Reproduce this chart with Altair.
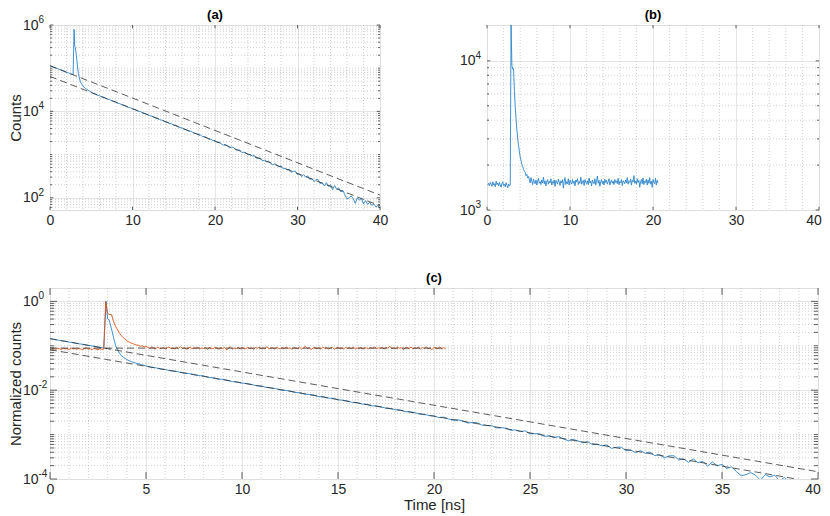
import altair as alt
import numpy as np
import pandas as pd

FONT = "Liberation Sans"
TXT = "#262626"

# ---------------- panel (a): raw counts of the sample ----------------
A_TIME_PRE = [0.0, 0.25, 0.5, 0.75, 1.0, 1.25, 1.5, 1.75, 2.0, 2.25, 2.5, 2.75]
A_COUNTS_PRE = [114000, 109500, 104200, 100600, 95500, 92300, 87600, 84800,
                80300, 77800, 73600, 71200]
A_TIME_PEAK = [2.80, 2.92, 3.00, 3.08, 3.18, 3.30, 3.42, 3.55, 3.70, 3.85,
               4.00, 4.25, 4.50, 4.75]
A_COUNTS_PEAK = [69500, 790000, 320000, 300000, 210000, 125000, 80000, 60000,
                 48000, 42500, 38500, 34500, 32000, 29800]
A_TAIL_START = 5.0
A_TAIL_STEP = 0.25
A_COUNTS_TAIL = [
    27800, 26200, 25300, 23700, 23050, 21700, 21250, 20050, 19050, 18700,
    17600, 16850, 16500, 15400, 14950, 14050, 13800, 13200, 12350, 12100,
    11350, 11150, 10600, 9950, 9800, 9150, 8950, 8600, 8000, 7850,
    7550, 7050, 6950, 6480, 6300, 6120, 5650, 5600, 5220, 5150,
    4780, 4700, 4500, 4180, 4150, 3860, 3790, 3520, 3490, 3340,
    3090, 3060, 2860, 2830, 2600, 2580, 2470, 2280, 2260, 2110,
    2090, 1905, 1955, 1785, 1655, 1700, 1600, 1440, 1480, 1460,
    1290, 1262, 1270, 1112, 1132, 1106, 987, 1005, 924, 958,
    822, 829, 826, 714, 743, 677, 708, 627, 576, 616,
    568, 517, 552, 469, 482, 439, 460, 387, 410, 411,
    343, 357, 308, 343, 301, 320, 265, 281, 236, 263,
    263, 211, 225, 187, 224, 183, 198, 154, 192, 156,
    169, 136, 148, 116, 94, 99, 110, 96, 74, 99,
    88, 96, 72, 86, 70, 78, 66, 72, 61, 66,
    57,
]
A_FIT_TIME = [0.0, 40.0]
A_FIT_LONG = [114000, 115]
A_FIT_SHORT = [64500, 65]

# ---------------- panel (b): raw counts of the reference ----------------
B_TIME_START = 0.1
B_TIME_STEP = 0.1
B_COUNTS = [
    1470, 1510, 1455, 1530, 1490, 1440, 1545, 1475, 1500, 1430, 1560, 1480, 1515, 1450,
    1530, 1470, 1420, 1505, 1545, 1460, 1490, 1430, 1525, 1470, 1410, 1495, 1450, 1470,
    17400, 9300, 8800, 8900, 6300, 4900, 4100, 3450, 3000, 2700, 2480, 2260, 2150, 2020,
    1960, 1870, 1820, 1790, 1700, 1740, 1640, 1680,
    1600, 1520, 1650, 1560, 1480, 1610, 1540, 1500, 1590, 1470, 1560, 1630, 1510,
    1550, 1480, 1590, 1520, 1660, 1500, 1570, 1450, 1540, 1600, 1490, 1560, 1520,
    1620, 1470, 1550, 1510, 1590, 1440, 1580, 1530, 1490, 1610, 1540, 1460, 1570,
    1520, 1600, 1400, 1560, 1650, 1480, 1550, 1500, 1620, 1470, 1580, 1530, 1490,
    1600, 1510, 1560, 1450, 1590, 1540, 1620, 1480, 1550, 1510, 1660, 1490, 1540,
    1580, 1460, 1600, 1530, 1500, 1570, 1480, 1640, 1520, 1560, 1450, 1590, 1540,
    1500, 1620, 1470, 1560, 1690, 1510, 1580, 1440, 1550, 1600, 1500, 1560, 1470,
    1610, 1530, 1580, 1490, 1550, 1620, 1470, 1540, 1590, 1510, 1560, 1480, 1600,
    1530, 1570, 1500, 1630, 1480, 1550, 1520, 1600, 1460, 1570, 1540, 1500, 1590,
    1520, 1650, 1490, 1560, 1530, 1610, 1470, 1580, 1540, 1700, 1510, 1560, 1490,
    1620, 1530, 1580, 1420, 1550, 1600, 1500, 1640, 1480, 1560, 1530, 1610, 1470,
    1590, 1510, 1650, 1490, 1560, 1420, 1600, 1540, 1500, 1630, 1470, 1580, 1520,
]
B_BACKGROUND = 1540
B_BACKGROUND_TIME = [0.0, 20.6]

# axis tick values and their exponent labels
A_Y_TICKS = [1e2, 1e4, 1e6]
A_Y_EXP = ["2", "4", "6"]
B_Y_TICKS = [1e3, 1e4]
B_Y_EXP = ["3", "4"]
C_Y_TICKS = [1e-4, 1e-2, 1.0]
C_Y_EXP = ["-4", "-2", "0"]
AB_X_TICKS = [0, 10, 20, 30, 40]
C_X_TICKS = [0, 5, 10, 15, 20, 25, 30, 35, 40]

BLUE = "#2c84cc"
RED = "#d95319"
DASH = "#333333"

# ---------------- tables ----------------
a_time = A_TIME_PRE + A_TIME_PEAK + list(
    np.round(A_TAIL_START + A_TAIL_STEP * np.arange(len(A_COUNTS_TAIL)), 3))
a_counts = A_COUNTS_PRE + A_COUNTS_PEAK + A_COUNTS_TAIL
b_time = list(np.round(B_TIME_START + B_TIME_STEP * np.arange(len(B_COUNTS)), 3))
b_counts = B_COUNTS

a_max = float(max(a_counts))
b_max = float(max(b_counts))

df_a = pd.DataFrame({"t": a_time, "v": a_counts, "s": "a"})
df_b = pd.DataFrame({"t": b_time, "v": b_counts, "s": "b"})
df_a_fit = pd.DataFrame({
    "t": A_FIT_TIME + A_FIT_TIME,
    "v": A_FIT_LONG + A_FIT_SHORT,
    "s": ["long", "long", "short", "short"],
})
df_c_blue = pd.DataFrame({"t": a_time, "v": np.array(a_counts) / a_max, "s": "a"})
df_c_red = pd.DataFrame({"t": b_time, "v": np.array(b_counts) / b_max, "s": "b"})
df_c_fit = pd.DataFrame({
    "t": A_FIT_TIME + A_FIT_TIME + B_BACKGROUND_TIME,
    "v": list(np.array(A_FIT_LONG) / a_max) + list(np.array(A_FIT_SHORT) / a_max)
         + [B_BACKGROUND / b_max] * 2,
    "s": ["long", "long", "short", "short", "bg", "bg"],
})


def log_minor(lo, hi):
    out = []
    for k in range(-6, 8):
        for m in range(1, 10):
            v = m * 10.0 ** k
            if lo < v < hi:
                out.append(v)
    return out


LABEL_FS = 14
EXP_FS = 10
LABEL_PAD_Y = 12


def panel(w, h, x_dom, y_dom, x_major, x_minor, y_major, y_exp, tick_len,
          series, title, y_title=None, x_title=None, last_shift=0):
    xs = alt.Scale(domain=x_dom, nice=False, zero=False)
    ys = alt.Scale(type="log", domain=y_dom, nice=False)
    xkw = dict(values=x_major, grid=True, gridColor="#dedede", gridWidth=0.8,
               ticks=False, domain=False, labelPadding=3, labelFontSize=LABEL_FS,
               labelFont=FONT, labelColor=TXT, labelFlush=False, title=None)
    if last_shift:
        xkw.update(labelOffset={"condition": {"test": f"datum.value >= {x_dom[1]}",
                                              "value": last_shift}, "value": 0})
    if x_title:
        xkw.update(title=x_title, titleFont=FONT, titleFontSize=15,
                   titleFontWeight="normal", titleColor=TXT, titlePadding=1)
    ykw = dict(values=y_major, grid=True, gridColor="#dedede", gridWidth=0.8,
               ticks=False, domain=False, labelPadding=LABEL_PAD_Y,
               labelFontSize=LABEL_FS, labelFont=FONT, labelColor=TXT,
               labelExpr="'10'", labelFlush=False, title=None)
    if y_title:
        ykw.update(title=y_title, titleFont=FONT, titleFontSize=15,
                   titleFontWeight="normal", titleColor=TXT, titleX=-29.5,
                   titleY=h / 2, titleAngle=270, titleBaseline="alphabetic",
                   titleAlign="center")
    xaxis = alt.Axis(**xkw)
    yaxis = alt.Axis(**ykw)

    def X(f):
        return alt.X(f, type="quantitative", scale=xs, axis=xaxis)

    def Y(f):
        return alt.Y(f, type="quantitative", scale=ys, axis=yaxis)

    y_minor = [v for v in log_minor(y_dom[0], y_dom[1]) if v not in y_major]
    dfxm = pd.DataFrame({"v": x_minor})
    dfym = pd.DataFrame({"v": y_minor})
    dfxM = pd.DataFrame({"v": x_major})
    dfyM = pd.DataFrame({"v": y_major, "e": y_exp})
    dft = pd.DataFrame({"title": [title]})

    layers = [
        alt.Chart(dfxm).mark_rule(color="#c4c4c4", strokeDash=[1, 2], strokeWidth=0.8).encode(x=X("v")),
        alt.Chart(dfym).mark_rule(color="#c4c4c4", strokeDash=[1, 2], strokeWidth=0.8).encode(y=Y("v")),
    ]
    for df, color, dash in series:
        kw = dict(color=color, strokeWidth=0.9, clip=True)
        if dash:
            kw.update(strokeDash=[7, 4], strokeWidth=0.8)
        layers.append(alt.Chart(df).mark_line(**kw).encode(x=X("t"), y=Y("v"), detail="s:N"))

    tk = dict(color="#3a3a3a", strokeWidth=0.8)
    L = tick_len
    Lm = tick_len * 0.6
    layers += [
        alt.Chart(dfxM).mark_rule(**tk).encode(x=X("v"), y=alt.value(h), y2=alt.value(h - L)),
        alt.Chart(dfxM).mark_rule(**tk).encode(x=X("v"), y=alt.value(0), y2=alt.value(L)),
        alt.Chart(dfyM).mark_rule(**tk).encode(y=Y("v"), x=alt.value(0), x2=alt.value(L)),
        alt.Chart(dfyM).mark_rule(**tk).encode(y=Y("v"), x=alt.value(w - L), x2=alt.value(w)),
        alt.Chart(dfym).mark_rule(**tk).encode(y=Y("v"), x=alt.value(0), x2=alt.value(Lm)),
        alt.Chart(dfym).mark_rule(**tk).encode(y=Y("v"), x=alt.value(w - Lm), x2=alt.value(w)),
        # exponents of the log tick labels
        alt.Chart(dfyM).mark_text(align="left", baseline="alphabetic", dy=-2,
                                  font=FONT, fontSize=EXP_FS, color=TXT).encode(
            y=Y("v"), x=alt.value(-LABEL_PAD_Y + 0.5), text="e:N"),
        # panel title
        alt.Chart(dft).mark_text(align="center", baseline="bottom", font=FONT,
                                 fontSize=13, fontWeight="bold", color="#000000").encode(
            x=alt.value(w / 2), y=alt.value(-3), text="title:N"),
    ]
    return alt.layer(*layers).properties(width=w, height=h)


H_TOP = 185
H_C = 191
AB_X_MINOR = [2, 4, 6, 8, 12, 14, 16, 18, 22, 24, 26, 28, 32, 34, 36, 38]

pa = panel(330, H_TOP, [0, 40], [52, 1e6], AB_X_TICKS, AB_X_MINOR,
           A_Y_TICKS, A_Y_EXP, 3.3,
           [(df_a, BLUE, False), (df_a_fit, DASH, True)],
           "(a)", y_title="Counts")

pb = panel(332, H_TOP, [0, 40], [1000, 17400], AB_X_TICKS, AB_X_MINOR,
           B_Y_TICKS, B_Y_EXP, 3.3,
           [(df_b, BLUE, False)],
           "(b)", last_shift=-5.5)

pc = panel(768, H_C, [0, 40], [1e-4, 2], C_X_TICKS,
           [i for i in range(1, 40) if i % 5 != 0],
           C_Y_TICKS, C_Y_EXP, 7.0,
           [(df_c_blue, BLUE, False), (df_c_red, RED, False), (df_c_fit, DASH, True)],
           "(c)", y_title="Normalized counts", x_title="Time [ns]", last_shift=-5.5)

top = alt.hconcat(pa, pb, spacing=69)
chart = alt.vconcat(top, pc, spacing=43).properties(
    padding={"left": 0, "top": 0, "right": 0, "bottom": 0}
).configure_view(stroke="#6e6e6e", strokeWidth=1).configure(background="white")

chart.save("out.html", embed_options={"renderer": "svg", "actions": False})
